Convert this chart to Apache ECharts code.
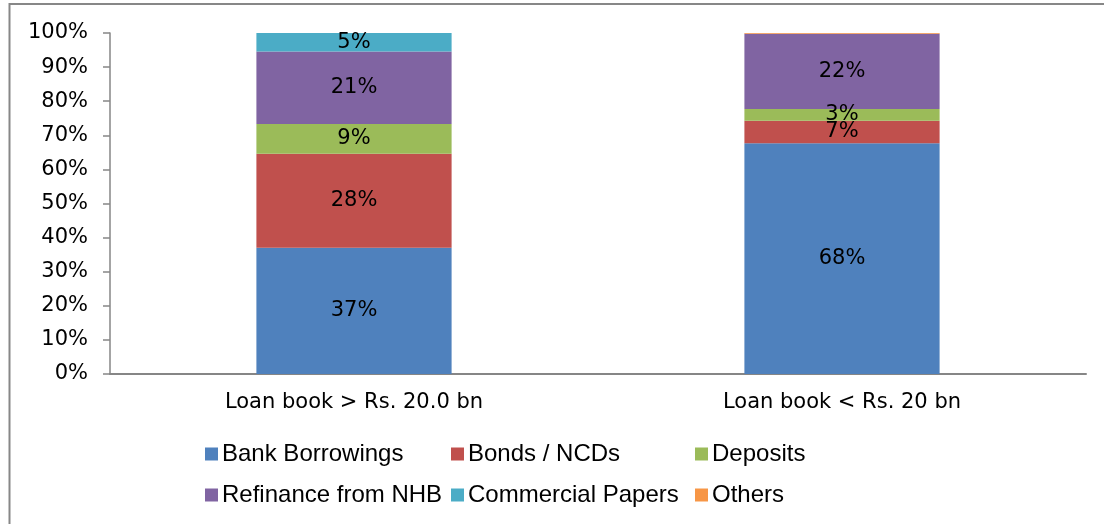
<!DOCTYPE html>
<html>
<head>
<meta charset="utf-8">
<script src="https://cdn.jsdelivr.net/npm/echarts@6/dist/echarts.min.js"></script>
<style>
html,body{margin:0;padding:0;background:#fff;}
#chart{width:1104px;height:524px;}
</style>
</head>
<body>
<div id="chart"></div>
<script>
var categories = ['Loan book > Rs. 20.0 bn', 'Loan book < Rs. 20 bn'];
var seriesNames = ['Bank Borrowings', 'Bonds / NCDs', 'Deposits', 'Refinance from NHB', 'Commercial Papers', 'Others'];
var bankBorrowings = [37.0, 67.7];
var bondsNCDs = [27.6, 6.6];
var deposits = [8.7, 3.4];
var refinanceNHB = [21.3, 22.1];
var commercialPapers = [5.4, 0];
var others = [0, 0.2];
var yTicks = [0, 10, 20, 30, 40, 50, 60, 70, 80, 90, 100];

var colors = ['#4F81BD', '#C0504D', '#9BBB59', '#8064A2', '#4BACC6', '#F79646'];
var values = [bankBorrowings, bondsNCDs, deposits, refinanceNHB, commercialPapers, others];

var chart = echarts.init(document.getElementById('chart'));

var series = seriesNames.map(function (name, i) {
  return {
    name: name,
    type: 'bar',
    stack: 'total',
    barWidth: '40%',
    data: values[i],
    itemStyle: { color: colors[i] },
    label: {
      show: true,
      position: 'inside',
      color: '#000',
      fontFamily: 'DejaVu Sans',
      fontSize: 21,
      formatter: function (p) { return p.value >= 1 ? Math.round(p.value) + '%' : ''; }
    }
  };
});

var legendPos = [
  [205, 442], [451, 442], [695, 442],
  [205, 483], [451, 483], [695, 483]
];
var legends = seriesNames.map(function (name, i) {
  return {
    data: [name],
    left: legendPos[i][0],
    top: legendPos[i][1],
    padding: 0,
    icon: 'rect',
    itemWidth: 13,
    itemHeight: 13,
    itemGap: 0,
    textStyle: { fontFamily: 'Liberation Sans', fontSize: 24, color: '#000', padding: [0, 0, 0, -1] },
    selectedMode: false
  };
});

chart.setOption({
  animation: false,
  backgroundColor: '#fff',
  color: colors,
  graphic: [{
    type: 'rect',
    shape: { x: 9.5, y: 4, width: 1200, height: 600 },
    style: { fill: 'none', stroke: '#878787', lineWidth: 2 },
    silent: true
  }],
  legend: legends,
  grid: { left: 110, right: 18, top: 33, bottom: 150, containLabel: false },
  xAxis: {
    type: 'category',
    data: categories,
    axisLine: { lineStyle: { color: '#868686', width: 2 } },
    axisTick: { show: false },
    axisLabel: { color: '#000', fontFamily: 'DejaVu Sans', fontSize: 21, margin: 18 }
  },
  yAxis: {
    type: 'value',
    min: yTicks[0],
    max: yTicks[yTicks.length - 1],
    interval: 10,
    axisLine: { show: true, lineStyle: { color: '#868686', width: 1.5 } },
    axisTick: { show: true, length: 7, lineStyle: { color: '#868686', width: 1.5 } },
    splitLine: { show: false },
    axisLabel: { color: '#000', fontFamily: 'DejaVu Sans', fontSize: 21, margin: 22, formatter: '{value}%' }
  },
  series: series
});
</script>
</body>
</html>
